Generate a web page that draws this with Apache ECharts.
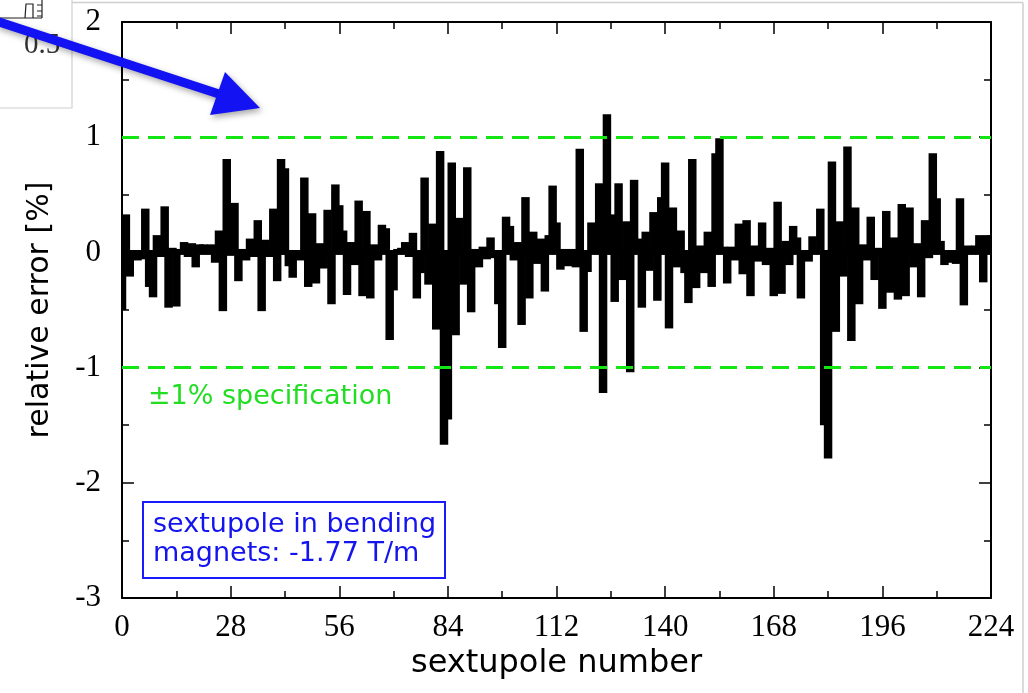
<!DOCTYPE html>
<html>
<head>
<meta charset="utf-8">
<title>Sextupole relative error</title>
<script src="https://cdn.jsdelivr.net/npm/echarts@6/dist/echarts.min.js"></script>
<style>
  html, body { margin: 0; padding: 0; background: #fff; }
  #chart { width: 1028px; height: 693px; }
</style>
</head>
<body>
<div id="chart"></div>
<script>
// Relative field error [%] of each sextupole, in order of sextupole number (0 .. 224)
const relErr = [
  -0.48, 0.31, -0.19, -0.03, -0.05, -0.04, 0.36, -0.28, -0.37, 0.13,
  -0.02, 0.38, -0.46, 0.02, -0.45, 0.01, 0.07, -0.02, 0.06, -0.11,
  0.05, 0.05, 0.04, 0.05, -0.07, 0.17, -0.49, 0.79, -0.01, 0.41,
  -0.23, 0.01, -0.05, 0.10, -0.02, 0.26, -0.49, 0.09, -0.02, 0.36,
  -0.23, 0.79, 0.71, -0.10, -0.20, -0.04, -0.05, 0.63, -0.28, 0.32,
  -0.25, 0.06, -0.12, 0.35, -0.43, 0.57, 0.39, 0.17, -0.35, 0.07,
  -0.09, 0.43, -0.36, 0.34, -0.38, 0.05, -0.05, 0.22, 0.19, -0.74,
  -0.31, 0.01, 0.02, 0.07, -0.02, 0.15, -0.38, -0.16, 0.63, -0.26,
  0.23, -0.65, 0.86, -1.65, -1.43, 0.76, -0.70, 0.28, -0.26, 0.72,
  -0.50, 0.01, -0.11, 0.03, -0.04, 0.11, -0.03, -0.43, -0.81, 0.29,
  0.21, -0.05, 0.07, -0.61, 0.46, -0.38, 0.16, -0.08, 0.10, -0.32,
  0.13, 0.56, 0.24, -0.13, 0.01, -0.10, 0.01, -0.11, 0.88, -0.67,
  -0.15, 0.24, 0.02, 0.58, -1.20, 1.18, 0.31, -0.41, 0.58, -0.22,
  0.25, -1.02, 0.61, 0.10, -0.46, 0.16, -0.14, 0.33, -0.40, 0.46,
  0.76, -0.64, 0.37, -0.11, 0.17, -0.16, -0.42, 0.79, -0.29, 0.04,
  -0.16, 0.16, -0.28, 0.84, 0.97, 0.03, -0.25, 0.03, -0.05, 0.23,
  -0.17, 0.26, -0.36, 0.04, -0.06, 0.24, -0.09, 0.02, -0.36, 0.42,
  -0.34, 0.08, -0.09, 0.21, 0.11, -0.38, -0.03, -0.06, 0.12, 0.02,
  0.36, -1.48, -1.77, 0.77, -0.67, 0.25, -0.19, 0.90, -0.75, 0.37,
  -0.43, 0.05, -0.05, 0.29, -0.22, 0.02, -0.47, 0.34, -0.33, 0.11,
  -0.39, 0.40, -0.36, 0.37, -0.11, 0.06, -0.37, 0.26, -0.03, 0.84,
  0.45, 0.08, -0.09, -0.07, -0.06, -0.08, 0.45, -0.44, 0.04, 0.03,
  0.04, 0.13, -0.24, 0.13, 0.13
];

// Tolerance band drawn as dashed lines
const specLimits = [1, -1];

// Axis ranges and tick spacing
const xRange = [0, 224];
const xStep = 28;
const yRange = [-3, 2];
const yStep = 1;

// Text
const xTitle = 'sextupole number';
const yTitle = 'relative error [%]';
const specText = '\u00b11% specification';
const noteLines = ['sextupole in bending', 'magnets: -1.77 T/m'];

const barData = relErr.map((v, i) => [i, v]);

const chart = echarts.init(document.getElementById('chart'), null, { renderer: 'canvas' });

const serif = 'Liberation Serif';
const sans = 'DejaVu Sans';

function xAxisCfg(pos, labels) {
  return {
    type: 'value', position: pos, min: xRange[0], max: xRange[1], interval: xStep,
    axisLine: { show: true, onZero: false, lineStyle: { color: '#000', width: 2 } },
    axisTick: { show: true, inside: true, length: 12, lineStyle: { color: '#000', width: 1.5 } },
    minorTick: { show: true, splitNumber: 2, length: 7, lineStyle: { color: '#000', width: 1.5 } },
    splitLine: { show: false },
    axisLabel: labels ? { show: true, margin: 14, color: '#000', fontFamily: serif, fontSize: 31 } : { show: false },
    name: labels ? xTitle : '',
    nameLocation: 'middle', nameGap: 49,
    nameTextStyle: { fontFamily: sans, fontSize: 32, color: '#000' }
  };
}

function yAxisCfg(pos, labels) {
  return {
    type: 'value', position: pos, min: yRange[0], max: yRange[1], interval: yStep,
    axisLine: { show: true, onZero: false, lineStyle: { color: '#000', width: 2 } },
    axisTick: { show: true, inside: true, length: 12, lineStyle: { color: '#000', width: 1.5 } },
    minorTick: { show: true, splitNumber: 2, length: 7, lineStyle: { color: '#000', width: 1.5 } },
    splitLine: { show: false },
    axisLabel: labels ? { show: true, margin: 21, color: '#000', fontFamily: serif, fontSize: 31 } : { show: false },
    name: labels ? yTitle : '',
    nameLocation: 'middle', nameGap: 67, nameRotate: 90,
    nameTextStyle: { fontFamily: sans, fontSize: 30, color: '#000' }
  };
}

// One filled box per sextupole, from zero to its value, one unit wide,
// drawn with a heavy outline (pad pixels on every side)
const pad = 2.3;
function renderBar(params, api) {
  const n = api.value(0);
  const v = api.value(1);
  const a = api.coord([n - 0.5, v]);
  const b = api.coord([n + 0.5, 0]);
  const cs = params.coordSys;
  const top = Math.min(a[1], b[1]);
  const bottom = Math.max(a[1], b[1]);
  const rect = echarts.graphic.clipRectByRect(
    { x: a[0] - pad, y: top - pad, width: (b[0] - a[0]) + 2 * pad, height: (bottom - top) + 2 * pad },
    { x: cs.x, y: cs.y, width: cs.width, height: cs.height }
  );
  if (!rect) return null;
  return {
    type: 'rect',
    shape: rect,
    style: { fill: '#000' }
  };
}

const arrowShadow = { shadowBlur: 6, shadowOffsetX: 2, shadowOffsetY: 3, shadowColor: 'rgba(0,0,0,0.35)' };

const option = {
  backgroundColor: '#fff',
  animation: false,
  grid: { left: 122, right: 37, top: 22, bottom: 95, containLabel: false },
  xAxis: [xAxisCfg('bottom', true), xAxisCfg('top', false)],
  yAxis: [yAxisCfg('left', true), yAxisCfg('right', false)],
  series: [
    {
      type: 'custom',
      name: 'relative error',
      xAxisIndex: 0, yAxisIndex: 0,
      renderItem: renderBar,
      encode: { x: 0, y: 1 },
      data: barData,
      z: 2
    },
    {
      type: 'line',
      name: 'specification',
      xAxisIndex: 0, yAxisIndex: 0,
      data: [],
      z: 5,
      markLine: {
        silent: true,
        symbol: 'none',
        label: { show: false },
        lineStyle: { color: '#14e614', width: 3, type: [17, 9] },
        data: specLimits.map(v => ({ yAxis: v }))
      }
    }
  ],
  graphic: {
    elements: [
      // outer slide frame
      { type: 'line', z: 100, shape: { x1: 72, y1: 2.5, x2: 1023, y2: 2.5 }, style: { stroke: '#cfcfcf', lineWidth: 1.5 } },
      { type: 'line', z: 100, shape: { x1: 1023, y1: 2.5, x2: 1023, y2: 693 }, style: { stroke: '#cfcfcf', lineWidth: 1.5 } },
      // inset fragment at the top left
      { type: 'rect', z: 100, shape: { x: -2, y: -2, width: 74, height: 110 }, style: { fill: '#fff', stroke: '#d0d0d0', lineWidth: 1.2 } },
      { type: 'line', z: 101, shape: { x1: 0, y1: 18, x2: 42, y2: 18 }, style: { stroke: '#222', lineWidth: 1.2 } },
      { type: 'polyline', z: 101, shape: { points: [[25, 18], [26, 4], [33, 4], [33, 18]] }, style: { stroke: '#222', lineWidth: 1.2, fill: null } },
      { type: 'line', z: 101, shape: { x1: 42, y1: 0, x2: 42, y2: 18 }, style: { stroke: '#222', lineWidth: 1.2 } },
      { type: 'line', z: 101, shape: { x1: 37, y1: 5, x2: 42, y2: 5 }, style: { stroke: '#222', lineWidth: 1 } },
      { type: 'line', z: 101, shape: { x1: 37, y1: 11, x2: 42, y2: 11 }, style: { stroke: '#222', lineWidth: 1 } },
      { type: 'line', z: 101, shape: { x1: 37, y1: 16, x2: 42, y2: 16 }, style: { stroke: '#222', lineWidth: 1 } },
      { type: 'text', z: 101, x: 24, y: 31, style: { text: '0.5', font: '29px "Liberation Serif"', fill: '#333' } },
      // specification label
      { type: 'text', z: 102, x: 148, y: 397,
        style: { text: specText, font: '27px "DejaVu Sans"', fill: '#22dd22', verticalAlign: 'middle' } },
      // note box
      { type: 'rect', z: 102, shape: { x: 143, y: 502, width: 302, height: 76 },
        style: { fill: '#fff', stroke: '#1a1aff', lineWidth: 2 } },
      { type: 'text', z: 103, x: 153, y: 525,
        style: { text: noteLines[0], font: '27px "DejaVu Sans"', fill: '#1414ee', verticalAlign: 'middle' } },
      { type: 'text', z: 103, x: 153, y: 554,
        style: { text: noteLines[1], font: '27px "DejaVu Sans"', fill: '#1414ee', verticalAlign: 'middle' } },
      // blue pointer arrow, on top of everything
      { type: 'line', z: 120, shape: { x1: -4, y1: 21, x2: 222, y2: 95 },
        style: Object.assign({ stroke: '#1212f2', lineWidth: 9 }, arrowShadow) },
      { type: 'polygon', z: 121, shape: { points: [[260, 108], [225, 72], [210, 115]] },
        style: Object.assign({ fill: '#1212f2' }, arrowShadow) }
    ]
  }
};

chart.setOption(option);
</script>
</body>
</html>
